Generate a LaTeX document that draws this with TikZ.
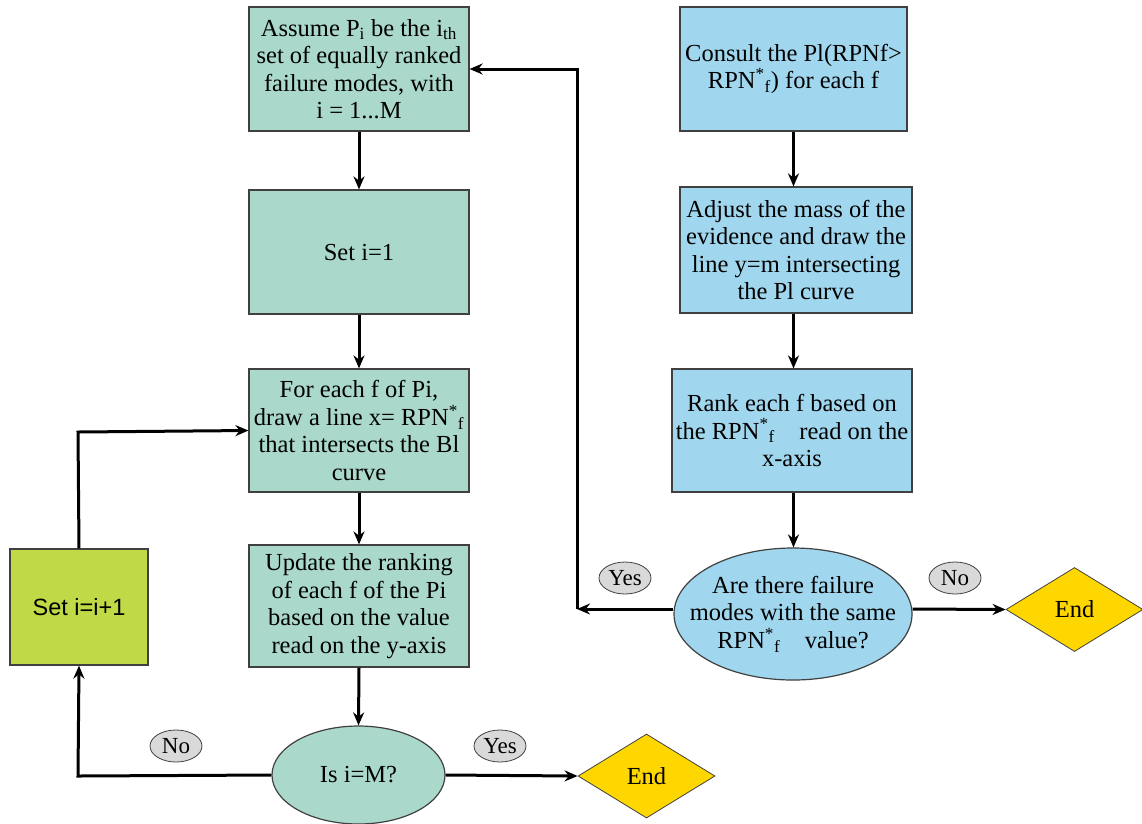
\documentclass[tikz,border=0pt]{standalone}
\usepackage{fontspec}
\setmainfont{Liberation Serif}
\newfontfamily\arialfont{Liberation Sans}
\usetikzlibrary{shapes.geometric,arrows.meta}
\definecolor{tealbox}{HTML}{AAD9CB}
\definecolor{bluebox}{HTML}{A1D7EE}
\definecolor{limebox}{HTML}{C0D946}
\definecolor{endyel}{HTML}{FFD700}
\definecolor{bubble}{HTML}{D9D9D9}
\definecolor{edge}{HTML}{404040}
\tikzset{
  txt/.style={font=\fontsize{24.5}{27.5}\selectfont, align=center},
  tbox/.style={txt, rectangle, draw=edge, line width=1.2pt, fill=tealbox, minimum width=220pt, minimum height=124pt, inner sep=1pt},
  bbox/.style={txt, rectangle, draw=edge, line width=1.2pt, fill=bluebox, inner sep=1pt},
  qell/.style={txt, ellipse, draw=edge, line width=1.2pt, inner sep=0pt},
  endd/.style={txt, diamond, draw=edge, line width=0.8pt, fill=endyel, inner sep=0pt, minimum width=137pt, minimum height=84pt, aspect=1.63},
  bub/.style={font=\fontsize{23}{26}\selectfont, ellipse, draw=edge, line width=0.8pt, fill=bubble, minimum width=52pt, minimum height=32pt, inner sep=0pt},
  arr/.style={line width=3pt, -{Stealth[length=13pt,width=11pt]}}
}
\begin{document}
\begin{tikzpicture}[x=1pt,y=-1pt]
\useasboundingbox (0,0) rectangle (1142,823);
% left column
\node[tbox] (a1) at (359,69) {Assume P\textsubscript{i} be the i\textsubscript{th}\\set of equally ranked\\failure modes, with\\i = 1...M};
\node[tbox] (a2) at (359,252) {Set i=1};
\node[tbox, minimum height=123pt] (a3) at (359,430.5) {For each f of Pi,\\draw a line x= RPN\textsuperscript{*}\textsubscript{f}\\that intersects the Bl\\curve};
\node[tbox, minimum height=122pt] (a4) at (359,606) {Update the ranking\\of each f of the Pi\\based on the value\\read on the y-axis};
\node[qell, fill=tealbox, minimum width=173pt, minimum height=98pt] (q1) at (358.5,775) {Is i=M?};
\node[endd] (e1) at (646.5,776) {End};
\node[rectangle, draw=edge, line width=1.2pt, fill=limebox, minimum width=138pt, minimum height=116pt, font=\arialfont\fontsize{23.5}{27}\selectfont] (s1) at (79,607) {Set i=i+1};
% right column
\node[bbox, minimum width=227pt, minimum height=124pt] (b1) at (793.5,69) {Consult the Pl(RPNf>\\RPN\textsuperscript{*}\textsubscript{f}) for each f};
\node[bbox, minimum width=232pt, minimum height=126pt] (b2) at (796,250) {Adjust the mass of the\\evidence and draw the\\line y=m intersecting\\the Pl curve};
\node[bbox, minimum width=240pt, minimum height=123pt] (b3) at (792,430.5) {Rank each f based on\\the RPN\textsuperscript{*}\textsubscript{f}\quad read on the\\x-axis};
\node[qell, fill=bluebox, minimum width=238pt, minimum height=132pt,
  label={[txt]center:Are there failure\\modes with the same\\RPN\textsuperscript{*}\textsubscript{f}\quad value?}] (q2) at (793,614) {};
\node[endd] (e2) at (1074.5,609.5) {End};
% bubbles
\node[bub] (y2) at (625,578) {Yes};
\node[bub] (n2) at (955,578) {No};
\node[bub] (n1) at (176,746) {No};
\node[bub] (y1) at (500,746) {Yes};
% coordinates
\coordinate (c1) at (577,609);
\coordinate (c2) at (78,776);
\coordinate (c3) at (78,432);
% connectors left
\draw[arr] (a1.south) -- (a2.north);
\draw[arr] (a2.south) -- (a3.north);
\draw[arr] (a3.south) -- (a4.north);
\draw[arr] (a4.south) -- (q1.north);
\draw[arr] (q1.east) -- (e1.west);
\draw[arr] (q1.west) -- (c2) -- (s1.south);
\draw[arr] (s1.north) -- (c3) -- (a3.west);
% connectors right
\draw[arr] (b1.south) -- (b2.north -| b1.south);
\draw[arr] (b2.south -| b1.south) -- (b3.north -| b1.south);
\draw[arr] (b3.south -| b1.south) -- (q2.north -| b1.south);
\draw[arr] (q2.east |- c1) -- (e2.west);
\draw[arr] (q2.west |- c1) -- (c1);
\draw[arr] (c1) |- (a1.east);
\end{tikzpicture}
\end{document}
